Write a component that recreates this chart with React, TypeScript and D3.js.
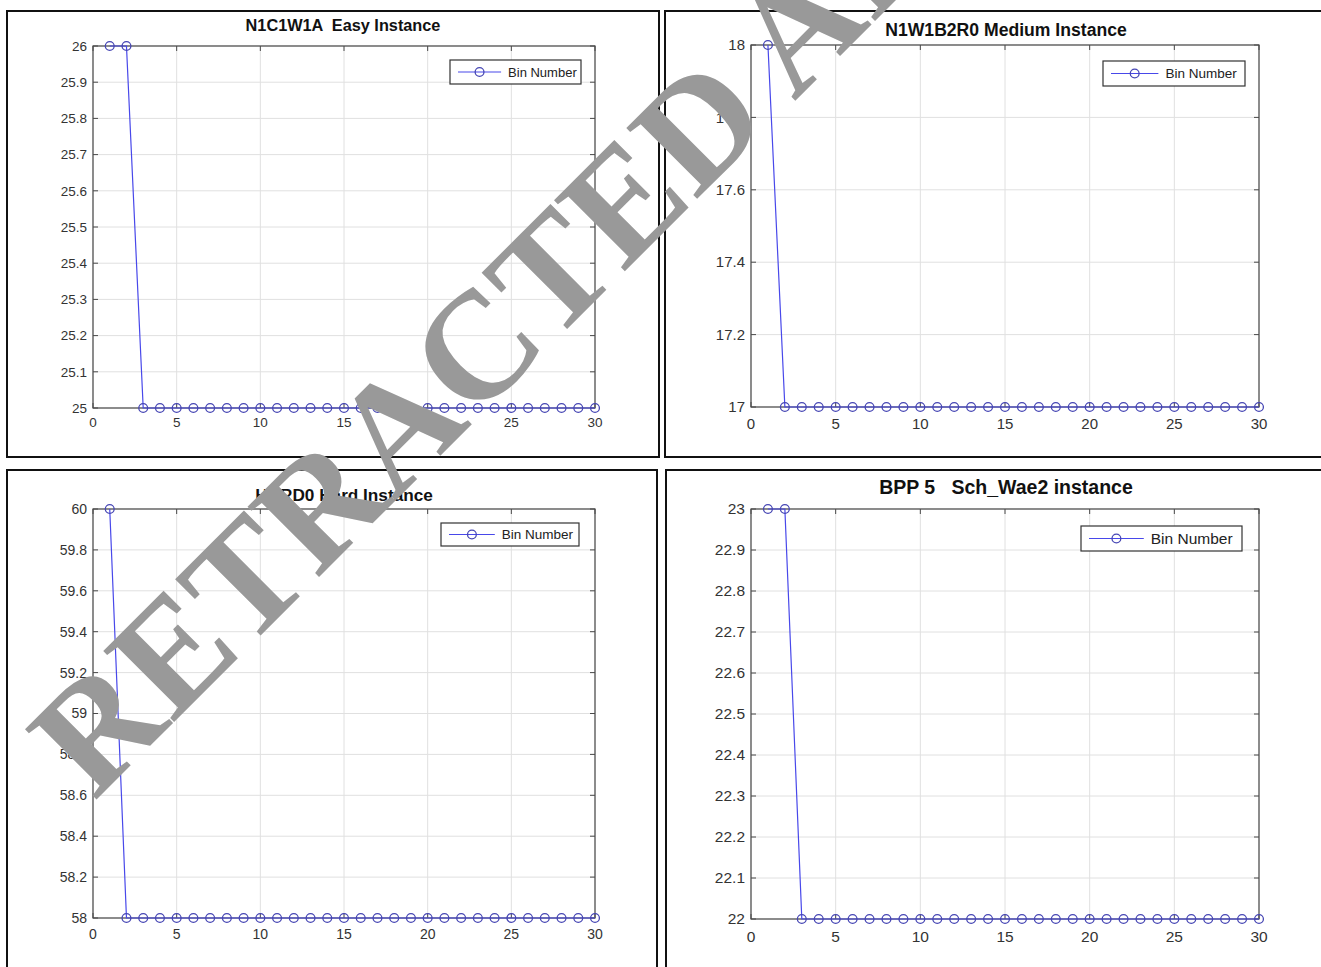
import React from "react";
import * as d3 from "d3";

// ---------- data ----------
const binIndex = [1, 2, 3, 4, 5, 6, 7, 8, 9, 10, 11, 12, 13, 14, 15, 16, 17, 18, 19, 20, 21, 22, 23, 24, 25, 26, 27, 28, 29, 30];

const easyValues = [26, 26, 25, 25, 25, 25, 25, 25, 25, 25, 25, 25, 25, 25, 25, 25, 25, 25, 25, 25, 25, 25, 25, 25, 25, 25, 25, 25, 25, 25];
const mediumValues = [18, 17, 17, 17, 17, 17, 17, 17, 17, 17, 17, 17, 17, 17, 17, 17, 17, 17, 17, 17, 17, 17, 17, 17, 17, 17, 17, 17, 17, 17];
const hardValues = [60, 58, 58, 58, 58, 58, 58, 58, 58, 58, 58, 58, 58, 58, 58, 58, 58, 58, 58, 58, 58, 58, 58, 58, 58, 58, 58, 58, 58, 58];
const schValues = [23, 23, 22, 22, 22, 22, 22, 22, 22, 22, 22, 22, 22, 22, 22, 22, 22, 22, 22, 22, 22, 22, 22, 22, 22, 22, 22, 22, 22, 22];

const xTicks = [0, 5, 10, 15, 20, 25, 30];
const easyYTicks = [25, 25.1, 25.2, 25.3, 25.4, 25.5, 25.6, 25.7, 25.8, 25.9, 26];
const mediumYTicks = [17, 17.2, 17.4, 17.6, 17.8, 18];
const hardYTicks = [58, 58.2, 58.4, 58.6, 58.8, 59, 59.2, 59.4, 59.6, 59.8, 60];
const schYTicks = [22, 22.1, 22.2, 22.3, 22.4, 22.5, 22.6, 22.7, 22.8, 22.9, 23];

const titles = [
  "N1C1W1A  Easy Instance",
  "N1W1B2R0 Medium Instance",
  "HARD0 Hard Instance",
  "BPP 5   Sch_Wae2 instance",
];
const legendLabel = "Bin Number";
const watermarkText = "RETRACTED ARTICLE";

// ---------- layout ----------
type PanelCfg = {
  frame: { x: number; y: number; w: number; h: number };
  plot: { x0: number; x1: number; yTop: number; yBottom: number };
  yDomain: [number, number];
  yTicks: number[];
  values: number[];
  title: string;
  titleX: number;
  titleY: number;
  titleSize: number;
  tickSize: number;
  xLabelOffset: number;
  legend: { x: number; y: number; w: number; h: number; size: number };
};

const panels: PanelCfg[] = [
  {
    frame: { x: 7, y: 11, w: 652, h: 446 },
    plot: { x0: 93, x1: 595, yTop: 46, yBottom: 408 },
    yDomain: [25, 26],
    yTicks: easyYTicks,
    values: easyValues,
    title: titles[0],
    titleX: 343,
    titleY: 31,
    titleSize: 16.3,
    tickSize: 13.5,
    xLabelOffset: 19,
    legend: { x: 450, y: 60, w: 131, h: 24, size: 13 },
  },
  {
    frame: { x: 665, y: 11, w: 700, h: 446 },
    plot: { x0: 751, x1: 1259, yTop: 45, yBottom: 407 },
    yDomain: [17, 18],
    yTicks: mediumYTicks,
    values: mediumValues,
    title: titles[1],
    titleX: 1006,
    titleY: 36,
    titleSize: 17.6,
    tickSize: 15,
    xLabelOffset: 22,
    legend: { x: 1103, y: 61, w: 142, h: 25, size: 13.5 },
  },
  {
    frame: { x: 7, y: 470, w: 650, h: 600 },
    plot: { x0: 93, x1: 595, yTop: 509, yBottom: 918 },
    yDomain: [58, 60],
    yTicks: hardYTicks,
    values: hardValues,
    title: titles[2],
    titleX: 344,
    titleY: 501,
    titleSize: 17.2,
    tickSize: 14,
    xLabelOffset: 21,
    legend: { x: 441, y: 523, w: 138, h: 23, size: 13.5 },
  },
  {
    frame: { x: 666, y: 470, w: 700, h: 600 },
    plot: { x0: 751, x1: 1259, yTop: 509, yBottom: 919 },
    yDomain: [22, 23],
    yTicks: schYTicks,
    values: schValues,
    title: titles[3],
    titleX: 1006,
    titleY: 494,
    titleSize: 19.5,
    tickSize: 15.5,
    xLabelOffset: 23,
    legend: { x: 1081, y: 526, w: 161, h: 25, size: 15.5 },
  },
];

const LINE_COLOR = "#4848ea";
const MARKER_COLOR = "#4646b4";
const AXIS_COLOR = "#4a4a4a";
const GRID_COLOR = "#e0e0e0";
const TEXT_COLOR = "#333333";
const FONT = "'Liberation Sans', Arial, Helvetica, sans-serif";

function Panel({ cfg }: { cfg: PanelCfg }) {
  const { plot, frame, legend } = cfg;
  const x = d3.scaleLinear().domain([0, 30]).range([plot.x0, plot.x1]);
  const y = d3.scaleLinear().domain(cfg.yDomain).range([plot.yBottom, plot.yTop]);
  const pts: [number, number][] = binIndex.map((b, i) => [b, cfg.values[i]]);
  const line = d3
    .line<[number, number]>()
    .x((d) => x(d[0]))
    .y((d) => y(d[1]));
  const tickLen = 5;
  const r = 4.4;
  const legCy = legend.y + legend.h / 2;
  const lineStart = legend.x + 8;
  const lineEnd = legend.x + legend.w * 0.39;
  const lineMid = (lineStart + lineEnd) / 2;
  return (
    <g>
      <rect
        x={frame.x}
        y={frame.y}
        width={frame.w}
        height={frame.h}
        fill="white"
        stroke="#111"
        strokeWidth={2}
      />
      {/* grid */}
      {xTicks.map((t) => (
        <line key={"gx" + t} x1={x(t)} x2={x(t)} y1={plot.yTop} y2={plot.yBottom} stroke={GRID_COLOR} strokeWidth={1} />
      ))}
      {cfg.yTicks.map((t) => (
        <line key={"gy" + t} x1={plot.x0} x2={plot.x1} y1={y(t)} y2={y(t)} stroke={GRID_COLOR} strokeWidth={1} />
      ))}
      {/* box */}
      <rect
        x={plot.x0}
        y={plot.yTop}
        width={plot.x1 - plot.x0}
        height={plot.yBottom - plot.yTop}
        fill="none"
        stroke={AXIS_COLOR}
        strokeWidth={1.2}
      />
      {/* ticks */}
      {xTicks.map((t) => (
        <g key={"tx" + t}>
          <line x1={x(t)} x2={x(t)} y1={plot.yBottom} y2={plot.yBottom - tickLen} stroke={AXIS_COLOR} />
          <line x1={x(t)} x2={x(t)} y1={plot.yTop} y2={plot.yTop + tickLen} stroke={AXIS_COLOR} />
          <text
            x={x(t)}
            y={plot.yBottom + cfg.xLabelOffset}
            textAnchor="middle"
            fontFamily={FONT}
            fontSize={cfg.tickSize}
            fill={TEXT_COLOR}
          >
            {String(t)}
          </text>
        </g>
      ))}
      {cfg.yTicks.map((t) => (
        <g key={"ty" + t}>
          <line x1={plot.x0} x2={plot.x0 + tickLen} y1={y(t)} y2={y(t)} stroke={AXIS_COLOR} />
          <line x1={plot.x1} x2={plot.x1 - tickLen} y1={y(t)} y2={y(t)} stroke={AXIS_COLOR} />
          <text
            x={plot.x0 - 6}
            y={y(t)}
            dy="0.35em"
            textAnchor="end"
            fontFamily={FONT}
            fontSize={cfg.tickSize}
            fill={TEXT_COLOR}
          >
            {String(t)}
          </text>
        </g>
      ))}
      {/* series */}
      <path d={line(pts) ?? ""} fill="none" stroke={LINE_COLOR} strokeWidth={1.2} />
      {pts.map((p) => (
        <circle key={"c" + p[0]} cx={x(p[0])} cy={y(p[1])} r={r} fill="none" stroke={MARKER_COLOR} strokeWidth={1.3} />
      ))}
      {/* title */}
      <text
        x={cfg.titleX}
        y={cfg.titleY}
        textAnchor="middle"
        fontFamily={FONT}
        fontWeight="bold"
        fontSize={cfg.titleSize}
        fill="#111"
        style={{ whiteSpace: "pre" }}
      >
        {cfg.title}
      </text>
      {/* legend */}
      <rect x={legend.x} y={legend.y} width={legend.w} height={legend.h} fill="white" stroke="#333" strokeWidth={1.2} />
      <line x1={lineStart} x2={lineEnd} y1={legCy} y2={legCy} stroke={LINE_COLOR} strokeWidth={1.2} />
      <circle cx={lineMid} cy={legCy} r={r} fill="none" stroke={MARKER_COLOR} strokeWidth={1.3} />
      <text
        x={lineEnd + 7}
        y={legCy}
        dy="0.35em"
        fontFamily={FONT}
        fontSize={legend.size}
        fill="#222"
      >
        {legendLabel}
      </text>
    </g>
  );
}

export default function App() {
  return (
    <svg
      width={1321}
      height={967}
      viewBox="0 0 1321 967"
      style={{ position: "absolute", left: 0, top: 0, background: "white" }}
    >
      <rect x={0} y={0} width={1321} height={967} fill="white" />
      {panels.map((p, i) => (
        <Panel key={i} cfg={p} />
      ))}
      <text
        transform="translate(94,802) rotate(-45)"
        fontFamily="'Liberation Serif', 'Times New Roman', serif"
        fontWeight="bold"
        fontSize={153}
        fill="#999999"
      >
        {watermarkText}
      </text>
    </svg>
  );
}
